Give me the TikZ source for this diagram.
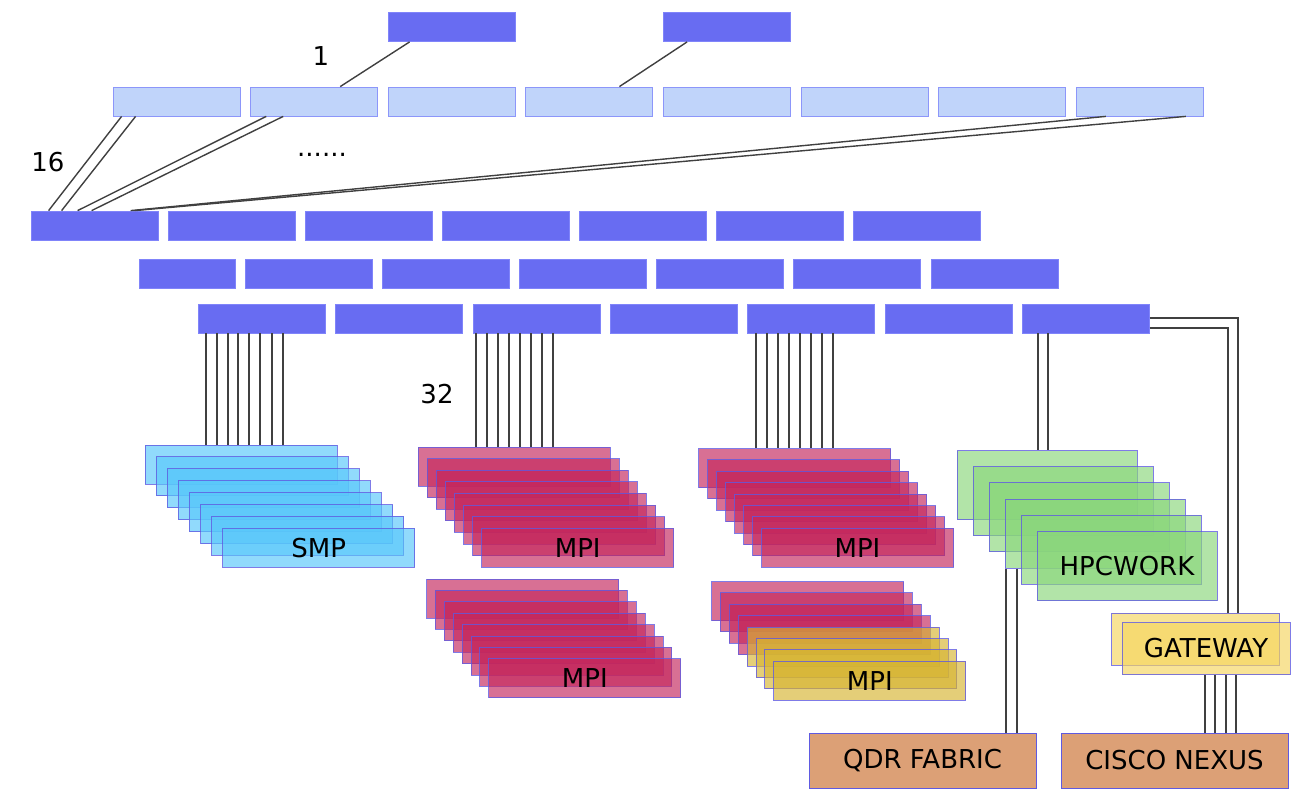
\documentclass[tikz,border=0pt]{standalone}
\usepackage{fontspec}
\setmainfont{DejaVu Sans}
\usetikzlibrary{calc}

\definecolor{corecol}{RGB}{104,108,242}
\definecolor{coreedge}{RGB}{128,132,250}
\definecolor{leafcol}{RGB}{192,212,250}
\definecolor{leafedge}{RGB}{140,150,250}
\definecolor{rackedge}{RGB}{95,90,225}
\definecolor{smpcol}{RGB}{88,199,250}
\definecolor{mpicol}{RGB}{196,38,92}
\definecolor{goldcol}{RGB}{214,180,50}
\definecolor{workcol}{RGB}{138,214,123}
\definecolor{gatecol}{RGB}{245,213,95}
\definecolor{netcol}{RGB}{220,160,118}

\tikzset{
  core/.style={draw=coreedge, fill=corecol, line width=0.8pt, inner sep=0pt,
    minimum width=127pt, minimum height=29pt},
  leaf/.style={core, draw=leafedge, fill=leafcol},
  rack/.style={draw=rackedge, draw opacity=0.8, fill opacity=0.66, text opacity=1,
    line width=1pt, inner sep=0pt, minimum width=192pt, minimum height=39pt},
  smpbox/.style={rack, fill=smpcol},
  mpibox/.style={rack, fill=mpicol},
  goldbox/.style={rack, fill=goldcol},
  workbox/.style={rack, fill=workcol, minimum width=180pt, minimum height=69pt},
  gatebox/.style={rack, fill=gatecol, minimum width=168pt, minimum height=52pt},
  netbox/.style={draw=rackedge, fill=netcol, line width=1pt, inner sep=0pt,
    minimum width=227pt, minimum height=55pt},
  wire/.style={draw=black!75, line width=1.4pt}
}

\begin{document}
\begin{tikzpicture}[x=1pt,y=-1pt,font=\fontsize{26}{30}\selectfont]
  \useasboundingbox (0,0) rectangle (1297,790);

  % switch layers
  \node[core] (t1) at (451.5,27) {};
  \node[core] (t2) at (727,27) {};
  \foreach \i in {1,...,8}
    \node[leaf] (l\i) at ({176.5+137.6*(\i-1)},101.5) {};
  \foreach \i in {1,...,7}
    \node[core] (da\i) at ({94.5+137*(\i-1)},225.5) {};
  \node[core, minimum width=96pt] (db1) at (187,273.5) {};
  \foreach \i in {2,...,7}
    \node[core] (db\i) at ({308.5+137.2*(\i-2)},273.5) {};
  \foreach \i in {1,...,7}
    \node[core] (dc\i) at ({262+137.3*(\i-1)},318.5) {};

  % node racks
  \foreach \i in {1,...,8}
    \node[smpbox] (smp\i) at ({241+11.1*(\i-1)},{464.5+11.9*(\i-1)}) {};
  \node (smptag) at (smp8) {SMP};
  \foreach \i in {1,...,8}
    \node[mpibox] (mpa\i) at ({514+9.1*(\i-1)},{466.5+11.6*(\i-1)}) {};
  \node (mpatag) at (mpa8) {MPI};
  \foreach \i in {1,...,8}
    \node[mpibox] (mpb\i) at ({522.5+8.9*(\i-1)},{598.5+11.4*(\i-1)}) {};
  \node (mpbtag) at (mpb8) {MPI};
  \foreach \i in {1,...,8}
    \node[mpibox] (mpc\i) at ({794.5+9*(\i-1)},{468+11.4*(\i-1)}) {};
  \node (mpctag) at (mpc8) {MPI};
  \foreach \i in {1,...,8}{
    \ifnum\i<5
      \node[mpibox] (mpd\i) at ({807.5+8.9*(\i-1)},{601+11.4*(\i-1)}) {};
    \else
      \node[goldbox] (mpd\i) at ({807.5+8.9*(\i-1)},{601+11.4*(\i-1)}) {};
    \fi
  }
  \node (mpdtag) at (mpd8) {MPI};
  \foreach \i in {1,...,6}
    \node[workbox] (work\i) at ({1047+16*(\i-1)},{485+16.2*(\i-1)}) {};
  \node (worktag) at (work6) {HPCWORK};
  \node[gatebox] (gate1) at (1195.5,639) {};
  \node[gatebox] (gate2) at (1206,648.5) {GATEWAY};
  \node[netbox] (qdr) at (922.5,760.5) {QDR FABRIC};
  \node[netbox] (nexus) at (1174.5,760.5) {CISCO NEXUS};

  % links
  \draw[wire] ($(t1.south west)+(22,0)$) -- ($(l2.north west)+(90,0)$);
  \draw[wire] ($(t2.south west)+(24,0)$) -- ($(l4.north west)+(94,0)$);
  \draw[wire] ($(l1.south west)+(9,0)$) -- ($(da1.north west)+(18,0)$);
  \draw[wire] ($(l1.south west)+(23,0)$) -- ($(da1.north west)+(31,0)$);
  \draw[wire] ($(l2.south west)+(16,0)$) -- ($(da1.north west)+(47,0)$);
  \draw[wire] ($(l2.south west)+(33,0)$) -- ($(da1.north west)+(61,0)$);
  \draw[wire] ($(l8.south west)+(30,0)$) -- ($(da1.north west)+(100,0)$);
  \draw[wire] ($(l8.south west)+(110,0)$) -- ($(da1.north west)+(104,0)$);

  \foreach \x in {206,217,228,238,249,260,272,283}
    \draw[wire] (\x,0 |- dc1.south) -- (\x,0 |- smp1.north);
  \foreach \x in {476,487,498,509,520,531,542,553}
    \draw[wire] (\x,0 |- dc3.south) -- (\x,0 |- mpa1.north);
  \foreach \x in {756,767,778,789,800,811,822,833}
    \draw[wire] (\x,0 |- dc5.south) -- (\x,0 |- mpc1.north);
  \foreach \x in {1038,1048}
    \draw[wire] (\x,0 |- dc7.south) -- (\x,0 |- work1.north);
  \foreach \x in {1006,1017}
    \draw[wire] (\x,0 |- work4.south) -- (\x,0 |- qdr.north);
  \foreach \x in {1205,1215,1226,1236}
    \draw[wire] (\x,0 |- gate2.south) -- (\x,0 |- nexus.north);
  \draw[wire] (dc7.east |- 0,318) -| (1238,0 |- gate1.north);
  \draw[wire] (dc7.east |- 0,328) -| (1228,0 |- gate1.north);

  % counts
  \node (one) at (321,56) {1};
  \node (sixteen) at (48,162) {16};
  \node (dots) at (322,155) {......};
  \node (thirtytwo) at (437,394) {32};
\end{tikzpicture}
\end{document}
